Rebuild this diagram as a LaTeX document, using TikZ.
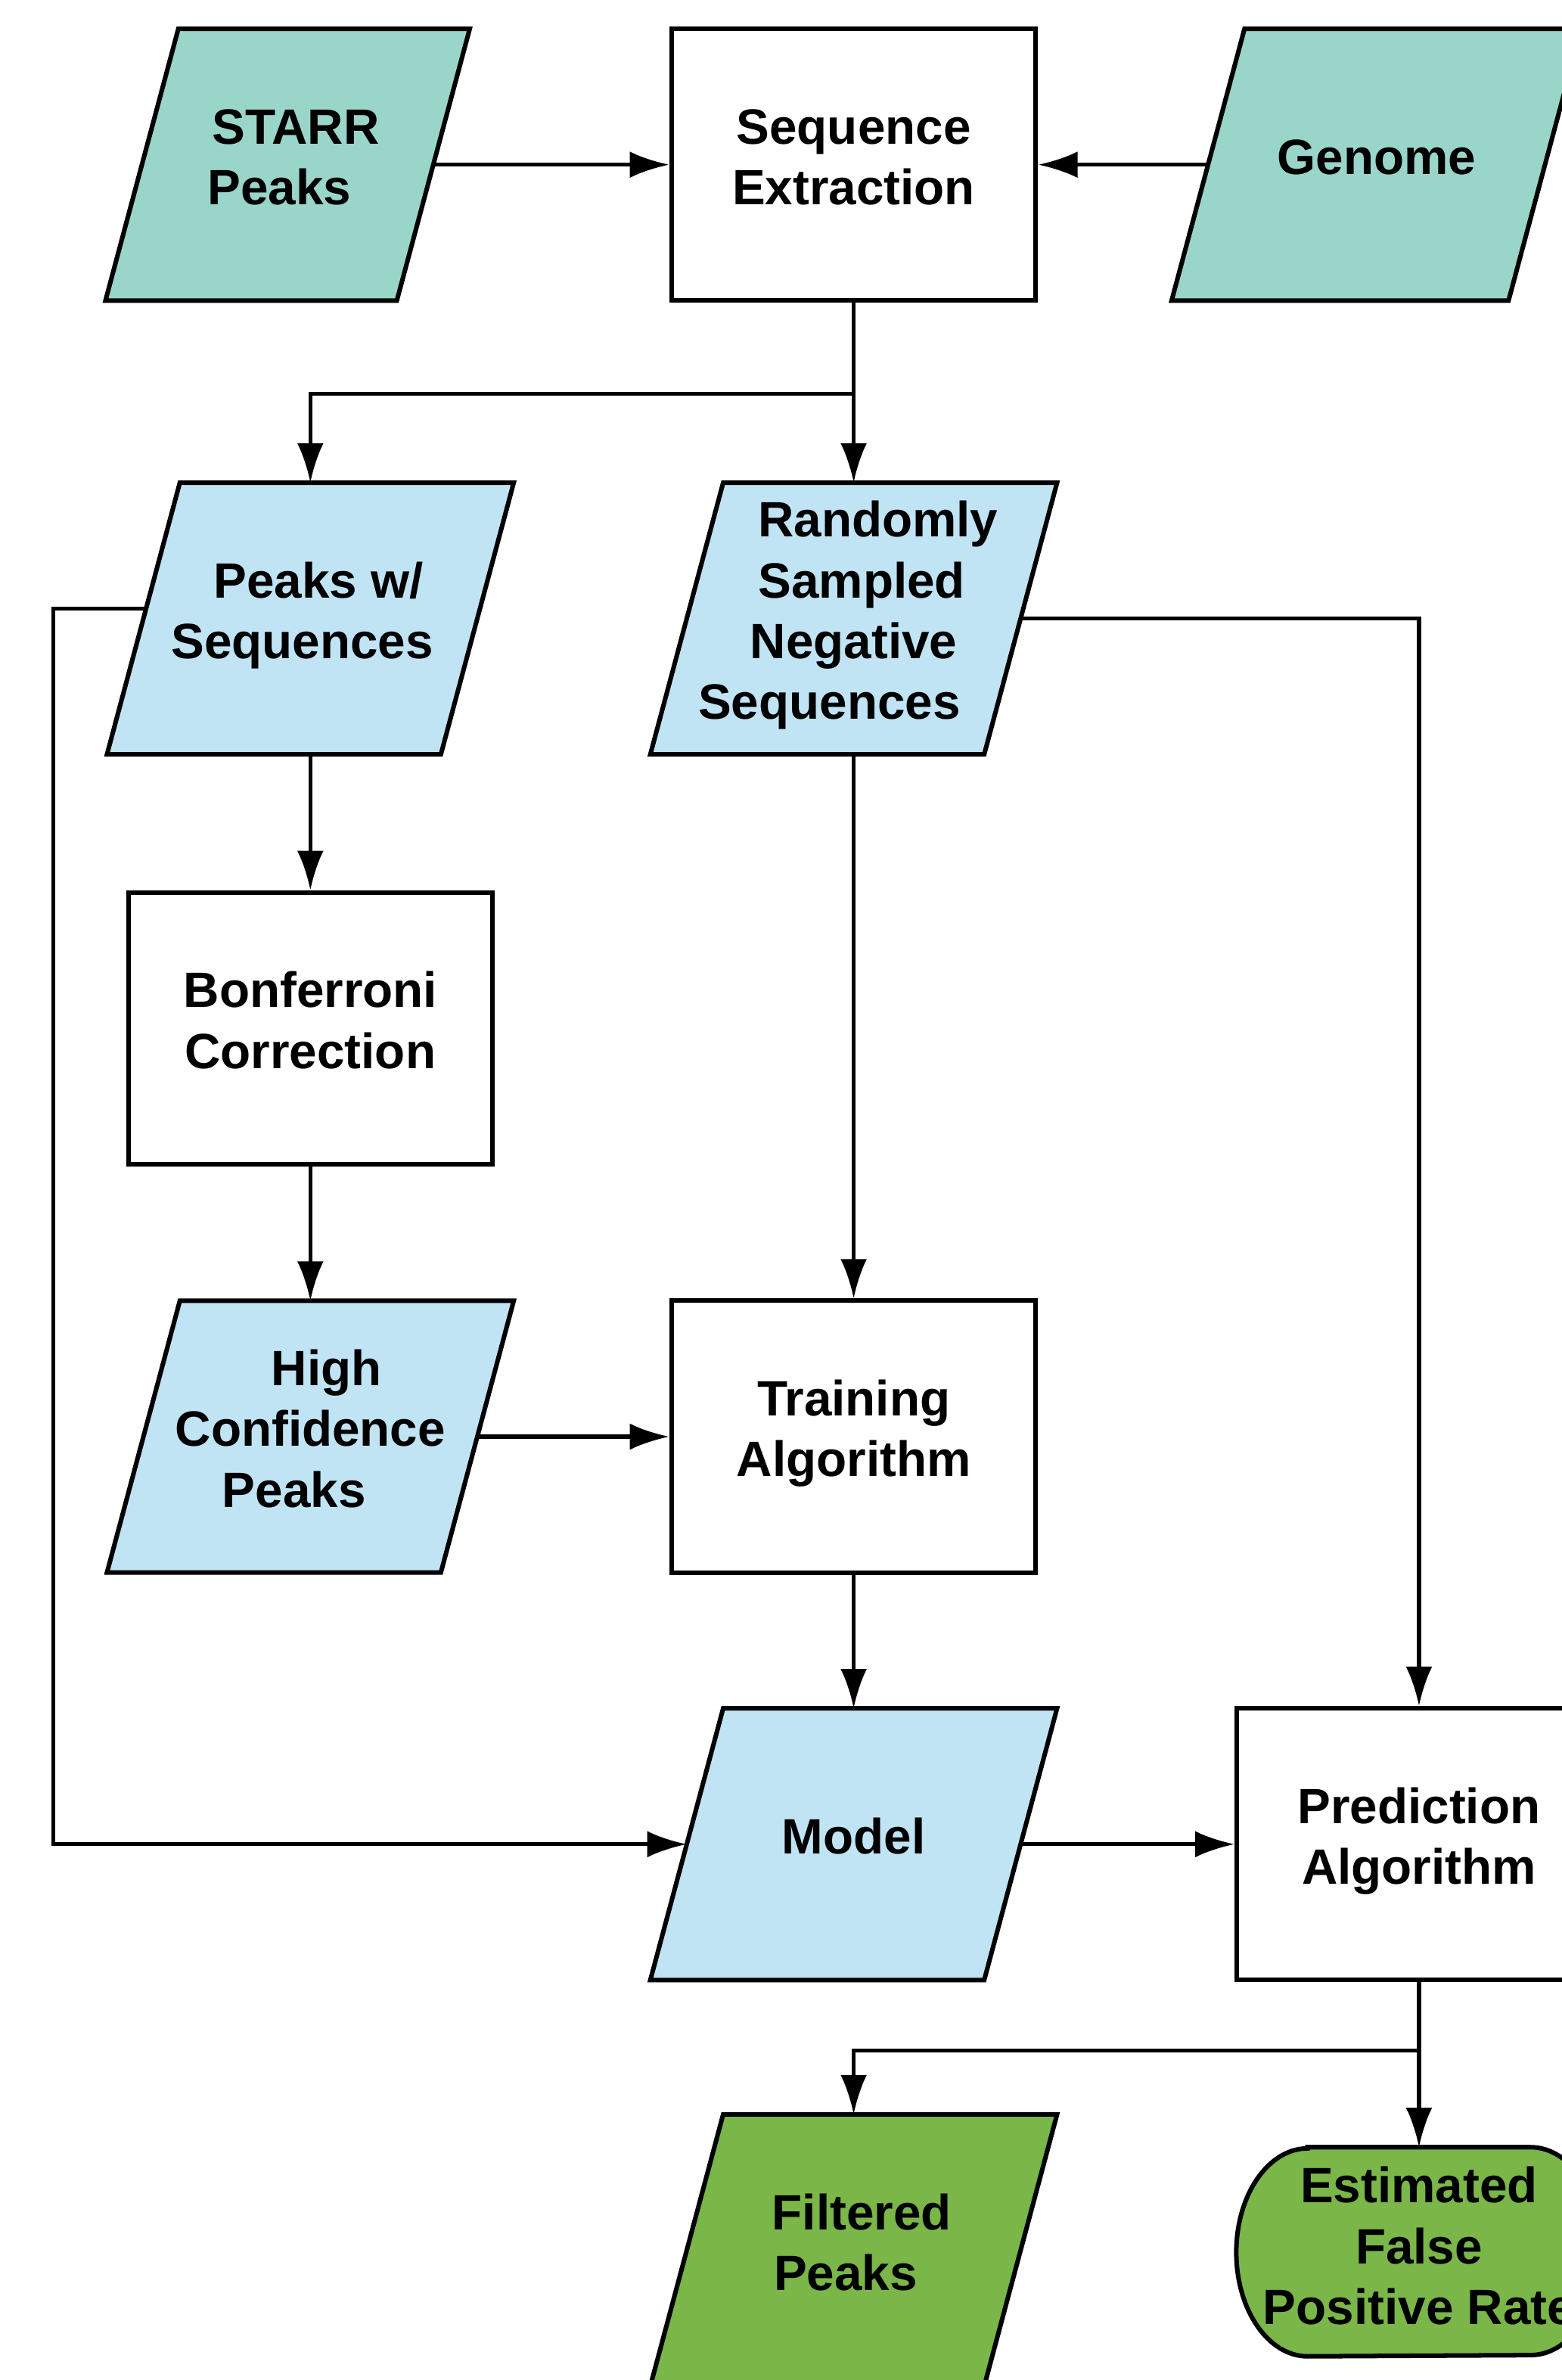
\documentclass[tikz,border=0pt]{standalone}
\usepackage{fontspec}
\setmainfont{Liberation Sans}
\usetikzlibrary{arrows.meta,calc}
\definecolor{tealc}{HTML}{9AD5CA}
\definecolor{lblue}{HTML}{C1E4F5}
\definecolor{lgreen}{HTML}{7AB648}
\newcommand{\tsx}{\rule[-0.212em]{0pt}{1.117em}}
\tikzset{
  anchorbox/.style={rectangle,inner sep=0pt,outer sep=0pt,minimum height=89.5pt},
  shapeline/.style={draw=black,line width=1.5pt,line join=miter},
  rectbox/.style={rectangle,draw=black,line width=1.5pt,fill=white,inner sep=0pt,minimum width=120pt,minimum height=89.5pt},
  txt/.style={align=center,inner sep=0pt,font=\fontsize{16.35pt}{20pt}\selectfont\bfseries},
  arr/.style={line width=1.3pt,-{Latex[length=13pt,width=8.7pt]}},
}
% parallelogram: name, cx, cy, width(pt), fill
\newcommand{\mypara}[5]{%
  \node[anchorbox,minimum width=#4] (#1) at (#2,#3) {};
  \draw[shapeline,fill=#5] ([xshift=12pt]#1.north west) -- ([xshift=12pt]#1.north east)
     -- ([xshift=-12pt]#1.south east) -- ([xshift=-12pt]#1.south west) -- cycle;}
\begin{document}
\begin{tikzpicture}[x=0.5pt,y=-0.5pt]
\useasboundingbox (0,0) rectangle (1029.2,1568);
\clip (0,0) rectangle (1029.2,1568);

% top row
\mypara{starr}{189.5}{108.5}{96pt}{tealc}
\node[txt] (starr-t) at ([yshift=2.5pt]starr) {\tsx\hspace*{5.35pt}STARR\\\tsx Peaks\hspace*{5.35pt}};
\node[rectbox] (seq) at (562.5,108.5) {};
\node[txt] (seq-t) at ([yshift=2.5pt]seq) {\tsx Sequence\\\tsx Extraction};
\mypara{genome}{907}{108.5}{111pt}{tealc}
\node[txt] (genome-t) at ([yshift=2.5pt]genome) {\tsx Genome};

% second row
\mypara{pk}{204.5}{407.5}{110pt}{lblue}
\node[txt] (pk-t) at ([yshift=2.5pt]pk) {\tsx\hspace*{5.35pt}Peaks w/\\\tsx Sequences\hspace*{5.35pt}};
\mypara{rand}{562.5}{407.5}{110pt}{lblue}
\node[txt] (rand-t) at ([yshift=2.5pt]rand) {\tsx\hspace*{16.05pt}Randomly\\\tsx\hspace*{5.35pt}Sampled\\\tsx Negative\hspace*{5.35pt}\\\tsx Sequences\hspace*{16.05pt}};

% third row
\node[rectbox] (bonf) at (204.5,677.5) {};
\node[txt] (bonf-t) at ([yshift=2.5pt]bonf) {\tsx Bonferroni\\\tsx Correction};

% fourth row
\mypara{hc}{204.5}{946.5}{110pt}{lblue}
\node[txt] (hc-t) at ([yshift=2.5pt]hc) {\tsx\hspace*{10.7pt}High\\\tsx Confidence\\\tsx Peaks\hspace*{10.7pt}};
\node[rectbox] (train) at (562.5,946.5) {};
\node[txt] (train-t) at ([yshift=2.5pt]train) {\tsx Training\\\tsx Algorithm};

% fifth row
\mypara{model}{562.5}{1215}{110pt}{lblue}
\node[txt] (model-t) at ([yshift=2.5pt]model) {\tsx Model};
\node[rectbox] (pred) at (935,1215) {};
\node[txt] (pred-t) at ([yshift=2.5pt]pred) {\tsx Prediction\\\tsx Algorithm};

% sixth row
\mypara{filt}{562.5}{1482.5}{110pt}{lgreen}
\node[txt] (filt-t) at ([yshift=2.5pt]filt) {\tsx\hspace*{5.35pt}Filtered\\\tsx Peaks\hspace*{5.35pt}};
\node[rectangle,inner sep=0pt,minimum width=120pt,minimum height=68.5pt] (est) at (935,1483.5) {};
\draw[shapeline,fill=lgreen] ([xshift=23.5pt]est.north west) -- ([xshift=-23.5pt]est.north east)
  arc[start angle=90,end angle=-90,x radius=23.5pt,y radius=34.25pt]
  -- ([xshift=23.5pt]est.south west)
  arc[start angle=270,end angle=90,x radius=23.5pt,y radius=34.25pt] -- cycle;
\node[txt] (est-t) at ([yshift=1.8pt]est) {\tsx Estimated\\\tsx False\\\tsx Positive Rate};

% connectors
\draw[arr] (starr.east) -- (seq.west);
\draw[arr] (genome.west) -- (seq.east);
\draw[arr] (seq.south) -- (rand.north);
\draw[arr] (seq.south) -- ++(0,60) -| (pk.north);
\draw[arr] (pk.south) -- (bonf.north);
\draw[arr] (bonf.south) -- (hc.north);
\draw[arr] (hc.east) -- (train.west);
\draw[arr] (rand.south) -- (train.north);
\draw[arr] (train.south) -- (model.north);
\draw[arr] (rand.east) -| (pred.north);
\coordinate (pkL) at ($(pk.west)+(1.7,-6.5)$);
\draw[arr] (pkL) -- ++(-61.2,0) |- (model.west);
\draw[arr] (model.east) -- (pred.west);
\draw[arr] (pred.south) -- (est.north);
\draw[arr] (pred.south) -- ++(0,45) -| (filt.north);
\end{tikzpicture}
\end{document}
